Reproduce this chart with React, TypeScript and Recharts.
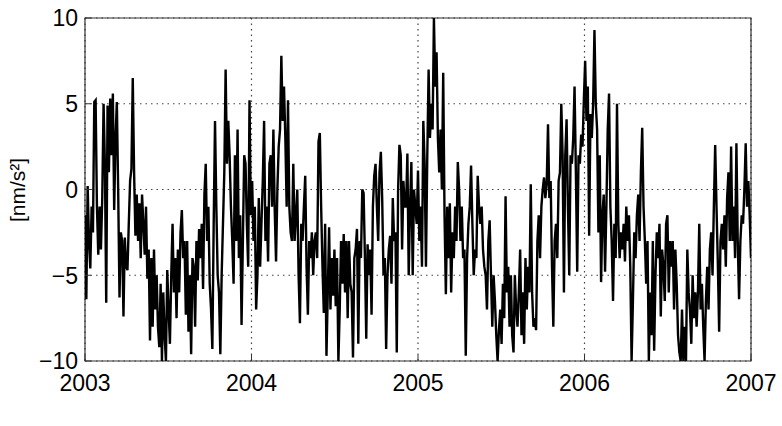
import React from 'react';
import { LineChart, Line, XAxis, YAxis, CartesianGrid, ReferenceArea } from 'recharts';

const START_YEAR = 2003;
const END_YEAR = 2007;
const xTicks = [2003, 2004, 2005, 2006, 2007];
const yTicks = [-10, -5, 0, 5, 10];
const yLabel = '[nm/s\u00B2]';

// gravity residual readings, in chronological order (nm/s²)
const part1 = [-1.5, -6.4, 0.2, -3, -4.6, -1, -2.5, 5.1, 5.2, -1, -3.8, -1, -3.5, -0.5, 5, 1.5, -6.6, 4.9, 1, 5.3, 2, 5.6, -1.2, 3, 5.1, 0, -6.3, -2.5, -3, -7.4, -2.8, -4.5, -4.7, -2, 0.5, 1.2, 6.5, 1, -2.7, -0.3, -3, -0.8, -4, -0.3, -2, -3.8, -1, -5.2, -3.5, -8.8, -4, -8, -3.5, -7, -5, -8, -9.2, -5.5, -10, -6, -8.5, -10, -4.7, -7, -9, -5, -2, -6, -4, -7.5, -3.5, -6, -2.5, -1.2, -4, -3, -7.3, -3, -8.3, -5, -9.6, -4];
const part2 = [-4.5, -8, -3, -5.3, -2.3, -4, -2, -5.8, -0.3, 1.5, -3, -1, -5.5, -7, -9.3, -2, 4, -1, -5, -6, -9.6, -5, -2, 1, 7, 1.5, 4, 2, -1, -3, -5.5, 2, -3, 3.5, -4, -1.5, -7.9, -3, 2, 1.5, -2, -4.5, 5.2, -1.5, 0.5, -3, -1, -7, -5, -0.5, -4.5, -2, 0.5, 4, -3, -1, -4.2, 1.5, 2, -1, 3.5, -1.2, -4.2, 0, 2.5, 3.5, 7.8, 4, 6, 3, -1, 5.2, -1, -2.5, -3, 1.5, -3, -1.5, 0, -5, -7.8, -2, -3, -1];
const part3 = [0.8, -4.5, -7.3, -3, -4, -2.5, -5, -3, -2.5, -4, 2.8, 3.3, -1, -4.5, -7.2, -2, -9.7, -6, -2.2, -7, -4, -6.2, -3.5, -6.8, -4, -10, -7, -3, -5.5, -2.6, -6, -3, -7.5, -3, -5.5, -6, -9.8, -4, -3.5, -2.3, -9, -3, -4, 0, -0.2, -4, -8.7, -3.2, -5, -3.5, -7.3, -1, 0.8, 1.5, -1, -3, 1, 2.2, -0.5, -5, -4, -9.3, -5, -3.5, -2.7, -5.5, -0.5, -3, -2.5, -9.5, 0, 2.6, 2, -3.5, 0.5, -1, -1, 2.1, -5, -1, 1.6, -5, 0, -1];
const part4 = [-2, 1.1, -3, -1, -4.5, 4, 1.5, -4.5, 2, 7, 3, 5, 3.5, 10, 6, 8, 3, 1, 3.5, 0, 6.8, -1.5, -6.1, -1, -4, -0.8, -6, -2.5, -4, -1, -3, 1.6, 0, -3, -1, -4, -3.5, -9.7, -4, -2, -1, 1.4, -2, -5, -3.5, -4, 0.8, -1, -2, -1, -3.5, -4.5, -5, -7, -3, -1.8, -5, -8, -5, -6.5, -8.5, -10, -8.2, -7, -9, -5.5, -7.5, -0.4, -6, -4.5, -8, -5, -8.5, -9.5, -5, -7, -8, -6, -3.5, -8.5, -6, -9, -4, -7];
const part5 = [-4.5, -6, 0.3, -6, -8, -7.5, -8.2, -3, -1.5, -4, -1, 0, 0.7, -0.5, 0.3, 3.8, -0.5, 0.5, -4.5, -8, -3, -2, -4, 0.5, 1, 5, 2, -6, 2, 4.1, -1, -5, 2, 1.5, 3, 6, 1, -4.8, 2, 1.5, 3.2, 2.5, 5.2, 7.5, 4, 6, -2.7, 4.4, 3, 5, 9.3, 5, 3.5, -2.5, 2, -5.4, -1.5, -0.3, -4.8, -1, 3.5, 5.6, -1, -3, -6.5, -2, -4, 5, -2, -4, -2.5, -3.5, -2, -4.2, -1, -3, -1.5, -4.5, -10, -6.5, -2.5, -4, -1.5, -0.3];
const part6 = [-3, 1, 3.6, -1, -3, -5.5, -3, -10, -6, -8.5, -3, -9.4, -5, -2.5, -4, -2, -7.4, -3.5, -4.5, -6.5, -2, -1.5, -6, -3, -4.5, -3, -7, -3.5, -5.5, -8.5, -9.5, -10, -7, -10, -8, -10, -3.5, -6, -7, -9, -5, -7.5, -6, -8, -6, -2, -7, -5.5, -8, -10, -6.5, -4.5, -7, -3.5, -2.5, -5, -1, 2.6, -1, -4.3, -8.3, -3, -2, -3.5, -1.5, -4.5, -0.5, 1, -3, 2.5, -3, -1, -4, 2.7, -3, -6.4, -3, -1.5, -2, 0, 2.7, -1, 0.5, -1.5, -4];

const values = [...part1, ...part2, ...part3, ...part4, ...part5, ...part6];
const data = values.map((g, i) => ({
  t: START_YEAR + (i * (END_YEAR - START_YEAR)) / (values.length - 1),
  g,
}));

const FONT = '"Liberation Sans", Arial, Helvetica, sans-serif';
const AX = '#333';
const TL = 6;
const FS = 23;

const fmt = (v: number) => (v < 0 ? '\u2212' + Math.abs(v) : String(v));

const LeftTick = (props: any) => {
  const { x, y, payload } = props;
  return (
    <g>
      <line x1={x} y1={y} x2={x + TL} y2={y} stroke={AX} strokeWidth={1} />
      <text x={x - 7} y={y} dy="0.36em" textAnchor="end" fontSize={FS} fontFamily={FONT} fill="#000">
        {fmt(payload.value)}
      </text>
    </g>
  );
};
const RightTick = (props: any) => {
  const { x, y } = props;
  return <line x1={x} y1={y} x2={x - TL} y2={y} stroke={AX} strokeWidth={1} />;
};
const BottomTick = (props: any) => {
  const { x, y, payload } = props;
  return (
    <g>
      <line x1={x} y1={y} x2={x} y2={y - TL} stroke={AX} strokeWidth={1} />
      <text x={x} y={y + 30} textAnchor="middle" fontSize={FS} fontFamily={FONT} fill="#000">
        {String(payload.value)}
      </text>
    </g>
  );
};
const TopTick = (props: any) => {
  const { x, y } = props;
  return <line x1={x} y1={y} x2={x} y2={y + TL} stroke={AX} strokeWidth={1} />;
};

export default function App() {
  return (
    <div style={{ position: 'absolute', left: 0, top: 0, width: 782, height: 426, background: '#fff' }}>
      <LineChart width={782} height={426} data={data} margin={{ top: 18, right: 31, bottom: 25, left: 25 }}>
        <CartesianGrid
          xAxisId="b"
          yAxisId="l"
          stroke="#444"
          strokeWidth={1.2}
          strokeDasharray="1.5 4"
        />
        <XAxis
          xAxisId="b"
          dataKey="t"
          type="number"
          domain={[START_YEAR, END_YEAR]}
          ticks={xTicks}
          allowDataOverflow
          height={40}
          tickSize={0}
          tickMargin={0}
          axisLine={false}
          tickLine={false}
          tick={<BottomTick />}
          interval={0}
        />
        <XAxis
          xAxisId="top"
          orientation="top"
          dataKey="t"
          type="number"
          domain={[START_YEAR, END_YEAR]}
          ticks={xTicks}
          height={0}
          tickSize={0}
          tickMargin={0}
          axisLine={false}
          tickLine={false}
          tick={<TopTick />}
          interval={0}
        />
        <YAxis
          yAxisId="l"
          type="number"
          domain={[-10, 10]}
          ticks={yTicks}
          allowDataOverflow
          width={60}
          tickSize={0}
          tickMargin={0}
          axisLine={false}
          tickLine={false}
          tick={<LeftTick />}
          interval={0}
          label={{
            content: () => (
              <text
                transform="translate(25,190) rotate(-90)"
                textAnchor="middle"
                fontSize={21}
                fontFamily={FONT}
                fill="#000"
              >
                {yLabel}
              </text>
            ),
          }}
        />
        <YAxis
          yAxisId="r"
          orientation="right"
          type="number"
          domain={[-10, 10]}
          ticks={yTicks}
          width={0}
          tickSize={0}
          tickMargin={0}
          axisLine={false}
          tickLine={false}
          tick={<RightTick />}
          interval={0}
        />
        <ReferenceArea
          xAxisId="b"
          yAxisId="l"
          x1={START_YEAR}
          x2={END_YEAR}
          y1={-10}
          y2={10}
          fill="none"
          fillOpacity={0}
          stroke={AX}
          strokeWidth={1.2}
          ifOverflow="visible"
        />
        <Line
          xAxisId="b"
          yAxisId="l"
          type="linear"
          dataKey="g"
          stroke="#000"
          strokeWidth={2.4}
          dot={false}
          isAnimationActive={false}
        />
      </LineChart>
    </div>
  );
}
